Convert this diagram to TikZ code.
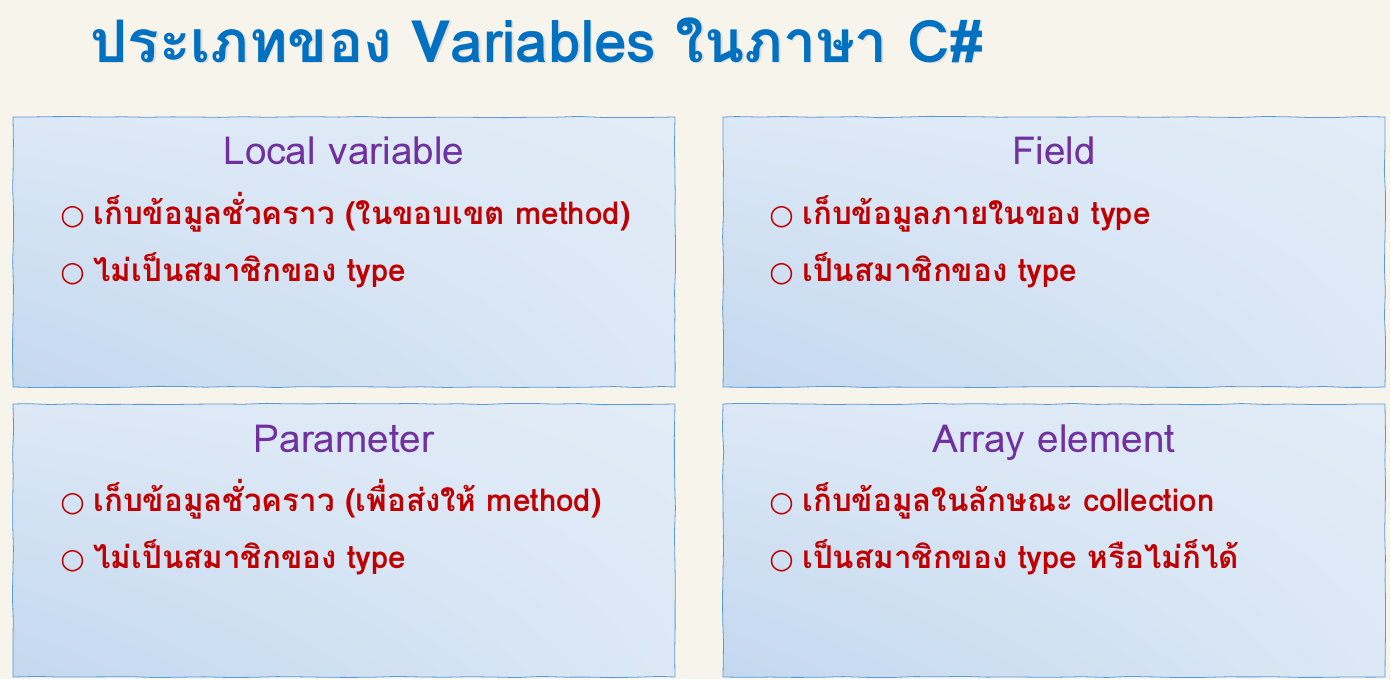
\documentclass[tikz,border=0pt]{standalone}
\usepackage{fontspec}
\setmainfont[Script=Thai]{Loma}
\newfontfamily\thaifont[Script=Thai]{Loma}
\newfontfamily\symfont{DejaVu Sans}
\usetikzlibrary{decorations.pathmorphing,shadings}
\definecolor{paper}{HTML}{F7F4EC}
\definecolor{ttlblue}{HTML}{0070C0}
\definecolor{headpurple}{HTML}{7030A0}
\definecolor{bulred}{HTML}{C00000}
\definecolor{boxline}{HTML}{5B9BD5}
\definecolor{boxdark}{HTML}{C3D8EF}
\definecolor{boxlight}{HTML}{E2ECF7}
\tikzset{
  panel/.style={draw=boxline, line width=0.6pt, lower left=boxdark, upper right=boxlight,
    upper left=boxlight!80!boxdark, lower right=boxlight!80!boxdark,
    decorate, decoration={random steps, segment length=18pt, amplitude=0.5pt}},
  headtxt/.style={font=\thaifont\fontsize{29}{33}\selectfont, text=headpurple, anchor=base},
  bultxt/.style={font=\thaifont\bfseries\fontsize{23.5}{27}\selectfont, text=bulred, anchor=base west, inner sep=0pt},
  ttltxt/.style={font=\thaifont\bfseries\fontsize{44}{50}\selectfont, anchor=base west, inner sep=0pt}
}
\newcommand{\bul}{{\symfont\fontsize{21}{24}\selectfont\char"25CB}\hspace{6.5pt}}
\begin{document}
\begin{tikzpicture}[x=0.75pt,y=-0.75pt]
\fill[paper] (0,0) rectangle (1390,679);
\useasboundingbox (0,0) rectangle (1390,679);
% title
\node[ttltxt, text=black!20, opacity=0.5] (ttlshadow) at (91.5,63.5) {ประเภทของ Variables ในภาษา C\#};
\node[ttltxt, text=ttlblue] (ttl) at (90,62) {ประเภทของ Variables ในภาษา C\#};
% boxes
\path[panel] (13,117) rectangle (675,387);
\path[panel] (723,117) rectangle (1385,387);
\path[panel] (13,404) rectangle (675,677);
\path[panel] (723,404) rectangle (1385,677);
\node (b1) at (344,252) {};
\node (b2) at (1054,252) {};
\node (b3) at (344,540) {};
\node (b4) at (1054,540) {};
% box 1
\node[headtxt] (h1) at (344,164) {Local variable};
\node[bultxt] (l1a) at (60,224) {\bul เก็บข้อมูลชั่วคราว (ในขอบเขต method)};
\node[bultxt] (l1b) at (60,281) {\bul ไม่เป็นสมาชิกของ type};
% box 2
\node[headtxt] (h2) at (1054,164) {Field};
\node[bultxt] (l2a) at (769,224) {\bul เก็บข้อมูลภายในของ type};
\node[bultxt] (l2b) at (769,281) {\bul เป็นสมาชิกของ type};
% box 3
\node[headtxt] (h3) at (344,452) {Parameter};
\node[bultxt] (l3a) at (60,511) {\bul เก็บข้อมูลชั่วคราว (เพื่อส่งให้ method)};
\node[bultxt] (l3b) at (60,568) {\bul ไม่เป็นสมาชิกของ type};
% box 4
\node[headtxt] (h4) at (1054,452) {Array element};
\node[bultxt] (l4a) at (769,511) {\bul เก็บข้อมูลในลักษณะ collection};
\node[bultxt] (l4b) at (769,568) {\bul เป็นสมาชิกของ type หรือไม่ก็ได้};
\end{tikzpicture}
\end{document}
